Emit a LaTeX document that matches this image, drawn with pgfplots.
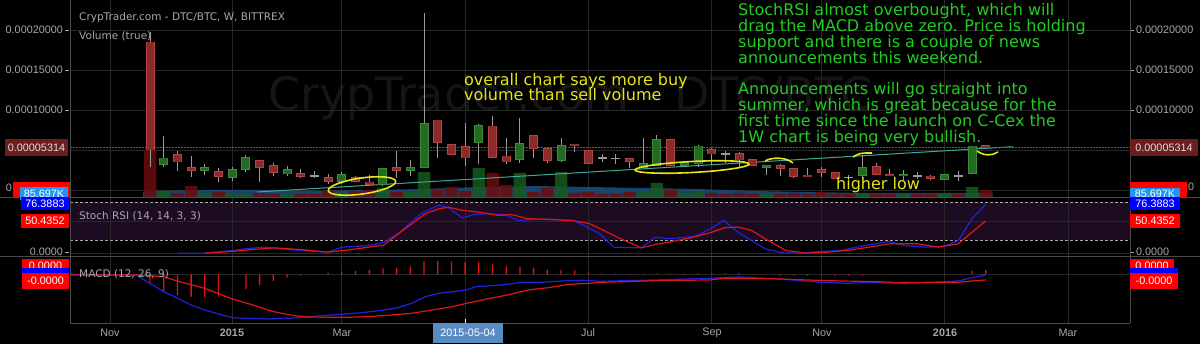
\documentclass[border=0pt]{standalone}
\usepackage{fontspec}
\setmainfont{Liberation Sans}
\newfontfamily\dv{DejaVu Sans}
\usepackage{pgfplots}
\usepackage{pgfplotstable}
\pgfplotsset{compat=1.18}
\definecolor{gridc}{HTML}{272727}
\definecolor{sepc}{HTML}{4A4A4A}
\definecolor{lab}{HTML}{A8A8A8}
\definecolor{gfill}{HTML}{236A23}
\definecolor{gline}{HTML}{3A8E3A}
\definecolor{rfill}{HTML}{8A2A2A}
\definecolor{rline}{HTML}{B44444}
\definecolor{wick}{HTML}{9A9A9A}
\definecolor{vgreen}{HTML}{175A1E}
\definecolor{vred}{HTML}{6A0C0C}
\definecolor{vma}{HTML}{1C4F7E}
\definecolor{band}{HTML}{1D0B21}
\definecolor{kblue}{HTML}{2222DD}
\definecolor{dred}{HTML}{E01515}
\definecolor{trend}{HTML}{3FA69A}
\definecolor{anny}{HTML}{E5E51A}
\definecolor{anng}{HTML}{22CC22}
\definecolor{pbox}{HTML}{6B1E1E}
\definecolor{vbox}{HTML}{2196F3}
\definecolor{datebox}{HTML}{5A8CC4}
\definecolor{wm}{HTML}{151515}
\definecolor{curline}{HTML}{B03A3A}
\newcommand\lf{\fontsize{10.8}{12}\selectfont}
\newcommand\af{\dv\fontsize{16}{16}\selectfont}
\newcommand\tf{\dv\fontsize{10.5}{12}\selectfont}

\pgfplotstableread{
i o h l c t v
0 18.5 19.75 2.9 5.0 -1 47
1 3.2 6.75 2.9 4.0 1 6
2 4.4 4.9 2.4 3.5 -1 4
3 2.8 4.2 1.66 2.45 -1 11
4 2.45 3.3 1.9 2.8 1 4
5 2.3 2.7 0.96 1.7 -1 5
6 1.6 2.9 1.1 2.6 1 3
7 2.6 4.4 2.2 4.1 1 3
8 3.7 3.8 0.96 2.8 -1 4
9 3.1 3.4 1.8 2.2 -1 3
10 2.0 3.0 1.8 2.6 1 3
11 2.1 2.6 1.46 1.66 -1 3
12 1.75 2.4 1.46 1.76 0 3
13 1.6 1.96 0.8 1.04 -1 6
14 1.1 2.2 0.8 1.96 1 4
15 1.6 1.7 1.0 1.1 -1 6
16 1.0 1.9 0.6 0.7 -1 7
17 0.63 2.8 0.54 2.7 1 9
18 2.8 4.9 1.46 2.45 -1 5
19 2.45 3.8 1.75 2.8 1 5
20 2.84 22.1 2.84 8.33 1 25
21 8.75 8.8 4.0 5.9 -1 7
22 5.7 5.8 4.4 4.46 -1 10
23 5.4 8.33 3.0 4.0 -1 6
24 5.9 8.2 3.2 8.1 1 29
25 8.0 9.25 4.0 4.1 -1 24
26 4.25 6.46 3.2 3.5 -1 12
27 3.84 8.96 3.4 5.84 1 24
28 6.84 6.9 4.0 5.2 -1 5
29 5.2 5.3 3.34 3.66 -1 9
30 3.66 6.46 3.5 5.54 1 25
31 5.75 5.8 4.8 5.62 -1 4
32 4.9 5.0 3.3 3.34 -1 5
33 4.04 4.5 3.5 4.0 0 3
34 3.96 4.5 3.3 3.95 0 3
35 3.9 3.95 2.8 3.6 -1 5
36 2.8 6.54 2.7 3.34 1 6
37 3.1 6.9 3.0 6.34 1 14
38 6.34 6.4 3.0 3.1 -1 7
39 3.1 3.5 3.0 3.46 1 4
40 3.25 5.67 2.9 5.5 1 5
41 5.1 5.2 3.1 4.5 -1 4
42 4.5 4.84 3.34 4.51 0 3
43 4.6 4.7 2.9 3.75 -1 4
44 3.84 3.9 3.04 3.04 -1 3
45 2.8 3.1 1.9 3.1 1 3
46 3.1 3.2 1.8 2.7 -1 3
47 2.7 2.8 1.5 1.66 -1 4
48 1.85 2.8 1.7 1.75 -1 3
49 2.6 2.9 1.6 2.16 -1 5
50 2.2 2.3 1.4 1.46 -1 3
51 1.59 1.9 1.2 1.6 0 3
52 1.8 4.4 1.4 2.8 1 4
53 2.9 3.34 1.9 1.96 -1 3
54 1.9 2.6 1.75 1.75 -1 3
55 1.75 2.5 1.3 1.96 1 3
56 1.75 2.2 1.4 1.76 0 3
57 1.75 1.9 1.3 1.4 -1 3
58 1.34 1.95 1.3 1.9 1 3
59 1.8 2.4 1.1 1.81 0 3
60 2.1 5.5 2.1 5.5 1 10
61 5.55 5.6 5.1 5.314 -1 7
}\candles

\pgfplotstableread{
i m
-0.5 5
0 6
4 7
8 7
12 6
16 7
20 8
24 10
28 11
32 10
36 9
40 8
44 6
48 5
52 4
56 4
61.5 4
}\volma

\pgfplotstableread{
i k
2 0.2
4 0.2
6 4.4
7 7
8.3 9.6
9.5 7
11 4.4
13 1.7
14 9.6
15.3 11.1
16 12.2
17.1 17.4
18.1 30.4
18.8 43.5
19.8 61.7
20.8 72.2
21.1 74.8
21.8 71.1
22.8 55
23.6 60.2
24.6 61.7
25.9 60.2
26.9 51.3
27.9 52.9
29.1 52.9
30.9 51.3
31.9 40.9
32.85 30
33.85 9.6
35.86 8.5
36.87 25.2
37.88 22.6
39.88 26.8
40.89 38.3
41.9 51.3
42.9 33
43.9 20
44.9 7
46.2 0.7
47.4 0.2
48.9 2.8
50.4 4.4
51.9 11.1
53.96 18.4
55 12.2
56.5 9.6
58 11.1
59 20
60 53.9
61 76.39
}\stochk

\pgfplotstableread{
i d
4 0.2
6 2.8
7.5 5.9
9 8.5
11 5.9
13 1.7
14.5 5.4
16 9.6
17.1 13.2
17.8 25.2
18.8 41
20.1 61.7
21.1 69.6
21.8 71.7
22.8 67
24.3 63.3
25.4 59.1
26.4 60.2
27.6 53.9
29.1 52.9
30.9 50.8
32.1 46.1
32.85 38.3
34.36 22.6
35.86 8.5
36.87 13.7
37.88 17.4
39.38 23.7
40.89 32
41.9 39.8
42.9 40.9
43.9 35.7
44.9 22.6
46.4 4.4
47.9 0.2
49.4 1.7
50.9 4.4
52.5 9.6
53.96 14.8
56 14.8
57.5 9.6
59 14.8
60 33
61 50.44
}\stochd

\pgfplotstableread{
i m
-5.8 0
-1.04 -0.2
0 -2.7
1 -5.2
2 -7.2
3 -9.2
4 -10.7
5 -11.9
6 -13.0
7 -13.2
8.5 -13.4
10 -13.2
11 -13.0
12.5 -12.4
14 -12.0
15.5 -11.5
17.1 -10.7
18.1 -10.0
19.1 -8.7
20.1 -6.7
21.1 -5.7
22.1 -5.2
23.1 -4.7
23.8 -3.7
25.1 -3.4
26.1 -3.0
27.1 -2.4
28.6 -2.4
30.1 -2.0
31.6 -1.8
32.85 -2.1
36.87 -1.7
40.9 -1.2
42.9 -0.8
44.9 -1.2
46.9 -1.7
48.9 -2.4
50.9 -2.7
52.96 -2.4
54.97 -2.7
57 -2.5
59 -2.0
60 -1.0
61 -0.2
}\macd

\pgfplotstableread{
i s
-5.8 -0.2
-1.04 -0.2
0.97 -0.7
1.98 -2.0
3.99 -4.2
5.0 -5.8
6.0 -7.4
7.5 -9.2
9.0 -11.2
10.5 -12.4
11.5 -12.8
13.0 -12.9
14.5 -12.9
16.0 -12.7
17.6 -12.2
19.1 -11.7
20.6 -10.7
22.1 -9.7
23.1 -8.7
24.6 -7.4
26.1 -6.2
27.6 -4.7
29.1 -4.0
30.6 -3.0
32.1 -2.7
32.85 -2.4
34.86 -2.2
36.87 -1.9
40.9 -1.7
41.9 -1.2
43.9 -1.2
45.9 -1.4
47.9 -1.7
50.4 -2.0
52.96 -2.2
54.5 -2.5
57 -2.4
59 -2.4
60 -2.0
61 -1.7
}\signal

\pgfplotstableread{
i h
0 -3.0
1 -5.2
2 -6.2
3 -6.7
4 -7.0
5 -6.7
7 -4.4
8 -3.2
9 -2.0
10 -1.0
11 -0.4
12 -0.2
13 0.4
14 0.8
15 1.0
16 1.3
17 1.8
18 2.0
19 2.3
20 3.8
21 4.0
22 3.8
23 3.6
24 3.7
25 3.0
26 2.4
27 2.2
28 2.0
29 1.3
30 1.3
31 1.2
32 0.6
33 0.2
34 0.2
35 0.2
36 0.2
37 0.3
38 0.2
39 0.2
40 0.3
41 0.3
42 0.3
43 0.3
44 -0.1
45 -0.1
46 -0.4
47 -0.4
48 -0.4
49 -0.4
50 -0.4
51 -0.4
52 -0.4
53 0.1
54 0.1
55 0.1
56 0.1
57 0.1
58 0.1
59 0.1
60 1.0
61 1.3
}\hist

\pgfplotsset{
  panel/.style={scale only axis, width=1060pt, xmin=-5.839, xmax=71.53,
    axis line style={draw=none}, tick style={draw=none},
    xticklabels={}, yticklabels={},
    xtick={-2.92,6,14,23,32,41,49,58,67},
    grid=major, major grid style={gridc, line width=0.8pt}},
  body/.style 2 args={draw=none, mark=none,
    error bars/.cd, y dir=both, y explicit, error mark=none,
    error bar style={draw=#1, line width=#2, solid}},
}

\begin{document}
\begin{tikzpicture}[x=1pt,y=1pt]
\useasboundingbox (0,0) rectangle (1200,344);
\fill[black] (0,0) rectangle (1200,344);
% watermark
\node[anchor=base west, inner sep=0, text=wm, font=\dv\fontsize{46}{50}\selectfont] at (268,233) {CrypTrader.com - DTC/BTC};
% stoch band
\fill[band] (70,103.5) rectangle (1130,142);

% ---------- main panel: grid + volume ----------
\begin{axis}[panel, at={(70pt,147pt)}, anchor=south west, height=197pt,
  ymin=0, ymax=197, ytick={7,47,87,127,167}]
  \addplot[fill=vma, draw=none, fill opacity=0.85] table[x=i,y=m]{\volma} \closedcycle;
  \addplot[ybar, bar width=12.5pt, bar shift=0pt, fill=vgreen, draw=none, fill opacity=0.85,
    restrict expr to domain={\thisrow{t}}{0.5:2}] table[x=i,y=v]{\candles};
  \addplot[ybar, bar width=12.5pt, bar shift=0pt, fill=vred, draw=none, fill opacity=0.85,
    restrict expr to domain={\thisrow{t}}{-2:0.1}] table[x=i,y=v]{\candles};
\end{axis}

% ---------- main panel: candles ----------
\begin{axis}[scale only axis, width=1060pt, height=197pt, at={(70pt,147pt)}, anchor=south west,
  xmin=-5.839, xmax=71.53, ymin=-0.875, ymax=23.75, hide axis]
  \addplot[trend, line width=1pt] coordinates {(7.8,-0.25) (63,5.41)};
  \addplot[curline, line width=0.8pt, dash pattern=on 1.5pt off 1.5pt] coordinates {(-5.839,5.314) (71.53,5.314)};
  % wicks
  \addplot[draw=none, mark=none, error bars/.cd, y dir=minus, y explicit, error mark=none,
    error bar style={draw=wick, line width=1pt, solid}]
    table[x=i, y=h, y error minus expr=\thisrow{h}-\thisrow{l}]{\candles};
  % green bodies
  \addplot[restrict expr to domain={\thisrow{t}}{0.5:2}, body={gline}{9pt}]
    table[x=i, y expr=(\thisrow{o}+\thisrow{c})/2, y error expr={abs(\thisrow{c}-\thisrow{o})/2+0.06}]{\candles};
  \addplot[restrict expr to domain={\thisrow{t}}{0.5:2}, body={gfill}{7pt}]
    table[x=i, y expr=(\thisrow{o}+\thisrow{c})/2, y error expr={max(abs(\thisrow{c}-\thisrow{o})/2-0.06,0.02)}]{\candles};
  % red bodies
  \addplot[restrict expr to domain={\thisrow{t}}{-2:-0.5}, body={rline}{9pt}]
    table[x=i, y expr=(\thisrow{o}+\thisrow{c})/2, y error expr={abs(\thisrow{c}-\thisrow{o})/2+0.06}]{\candles};
  \addplot[restrict expr to domain={\thisrow{t}}{-2:-0.5}, body={rfill}{7pt}]
    table[x=i, y expr=(\thisrow{o}+\thisrow{c})/2, y error expr={max(abs(\thisrow{c}-\thisrow{o})/2-0.06,0.02)}]{\candles};
  % doji
  \addplot[restrict expr to domain={\thisrow{t}}{-0.5:0.5}, body={wick}{9pt}]
    table[x=i, y expr=(\thisrow{o}+\thisrow{c})/2, y error expr=0.07]{\candles};
\end{axis}

% ---------- Stoch RSI ----------
\begin{axis}[panel, at={(70pt,87.5pt)}, anchor=south west, height=59pt,
  ymin=-5, ymax=87, ytick={0,50}]
  \draw[lab, line width=0.7pt, dash pattern=on 3pt off 2pt] (axis cs:-5.839,80) -- (axis cs:71.53,80);
  \draw[lab, line width=0.7pt, dash pattern=on 3pt off 2pt] (axis cs:-5.839,20) -- (axis cs:71.53,20);
  \addplot[kblue, line width=1.2pt] table[x=i,y=k]{\stochk};
  \addplot[dred, line width=1.2pt] table[x=i,y=d]{\stochd};
\end{axis}

% ---------- MACD ----------
\begin{axis}[panel, at={(70pt,21pt)}, anchor=south west, height=66.5pt,
  ymin=-14.61, ymax=5.34, ytick={0}]
  \addplot[ybar, bar width=1.3pt, bar shift=0pt, fill=dred, draw=none] table[x=i,y=h]{\hist};
  \addplot[kblue, line width=1.2pt] table[x=i,y=m]{\macd};
  \addplot[dred, line width=1.2pt] table[x=i,y=s]{\signal};
\end{axis}

% separators and borders
\draw[sepc, line width=0.8pt] (0,146.5) -- (1200,146.5);
\draw[sepc, line width=0.8pt] (0,87.5) -- (1200,87.5);
\draw[sepc, line width=0.8pt] (70,21) -- (1130,21);
\draw[sepc, line width=0.8pt] (70,21) -- (70,344);
\draw[sepc, line width=0.8pt] (1130,21) -- (1130,344);

% hand drawn yellow marks
\draw[anny, line width=1.6pt, rotate around={8:(362,158)}] (362,158) ellipse [x radius=34pt, y radius=8pt];
\draw[anny, line width=1.6pt, rotate around={3:(692,177)}] (692,177) ellipse [x radius=57pt, y radius=5.5pt];
\draw[anny, line width=1.6pt] (765,183) .. controls (772,187) and (786,187) .. (793,181);
\draw[anny, line width=1.6pt] (853,187) .. controls (860,191) .. (872,191);
\draw[anny, line width=1.6pt] (977,193) .. controls (984,188) and (992,188) .. (998,192);

% titles
\node[anchor=west, inner sep=0, text=lab, font=\tf] at (79,326) {CrypTrader.com - DTC/BTC, W, BITTREX};
\node[anchor=west, inner sep=0, text=lab, font=\tf] at (79,308) {Volume (true)};
\node[anchor=west, inner sep=0, text=lab, font=\tf] at (79,128) {Stoch RSI (14, 14, 3, 3)};
\node[anchor=west, inner sep=0, text=lab, font=\tf] at (79,70) {MACD (12, 26, 9)};

% annotations
\begin{scope}[every node/.style={anchor=base west, inner sep=0, font=\af}]
\node[text=anng] at (738,328) {StochRSI almost overbought, which will};
\node[text=anng] at (738,312.2) {drag the MACD above zero. Price is holding};
\node[text=anng] at (738,296.4) {support and there is a couple of news};
\node[text=anng] at (738,280.6) {announcements this weekend.};
\node[text=anng] at (738,249) {Announcements will go straight into};
\node[text=anng] at (738,233.2) {summer, which is great because for the};
\node[text=anng] at (738,217.4) {first time since the launch on C-Cex the};
\node[text=anng] at (738,201.6) {1W chart is being very bullish.};
\node[text=anny] at (464,258.3) {overall chart says more buy};
\node[text=anny] at (464,243) {volume than sell volume};
\node[text=anny] at (836,154.7) {higher low};
\end{scope}

% price axis labels
\begin{scope}[every node/.style={inner sep=0, font=\lf}]
\foreach \yy/\tt in {314/0.00020000, 274/0.00015000, 234/0.00010000}{
  \node[anchor=east, text=lab] at (63,\yy) {\tt};
  \draw[lab] (65,\yy) -- (69,\yy);
  \node[anchor=west, text=lab] at (1136,\yy) {\tt};
  \draw[lab] (1131,\yy) -- (1134,\yy);
}
\fill[pbox] (5,188) rectangle (68,205);
\node[text=white!88!black] at (36.5,196.5) {0.00005314};
\fill[pbox] (1130,188) rectangle (1198,205);
\node[text=white!88!black] at (1164,196.5) {0.00005314};
% volume labels
\node[text=lab] at (9,156) {0};
\fill[red] (13,146) rectangle (70,162);
\fill[vbox] (20,144) rectangle (68,157);
\node[text=white] at (44,150.5) {85.697K};
\fill[red] (1130,147) rectangle (1187,162);
\fill[vbox] (1130,144) rectangle (1180,156);
\node[text=white] at (1155,150) {85.697K};
\node[text=lab] at (1191,157) {0};
% stoch labels
\fill[red] (21,116) rectangle (69,130);
\node[text=white] at (45,123) {50.4352};
\fill[blue] (21,134) rectangle (69,146.5);
\node[text=white] at (45,140) {76.3883};
\fill[red] (1130,116) rectangle (1180,130);
\node[text=white] at (1155,123) {50.4352};
\fill[blue] (1130,134) rectangle (1180,146.5);
\node[text=white] at (1155,140) {76.3883};
\node[anchor=east, text=lab] at (63,92) {0.0000};
\draw[lab] (65,92) -- (69,92);
\node[anchor=west, text=lab] at (1136,92) {0.0000};
\draw[lab] (1131,92) -- (1134,92);
% macd labels
\fill[red] (22,71) rectangle (69,85);
\node[text=white] at (45.5,78) {0.0000};
\fill[blue] (22,62) rectangle (69,76);
\fill[red] (22,55) rectangle (69,71);
\node[text=white] at (45.5,63) {-0.0000};
\fill[red] (1130,71) rectangle (1174,85);
\node[text=white] at (1152,78) {0.0000};
\fill[blue] (1130,62) rectangle (1178,76);
\fill[red] (1130,55) rectangle (1178,71);
\node[text=white] at (1154,63) {-0.0000};
% x labels
\foreach \xx/\tt in {110/Nov, 342/Mar, 588/Jul, 712/Sep, 822/Nov, 1068/Mar}{
  \node[text=lab] at (\xx,11) {\tt};
}
\node[text=lab, font=\lf\bfseries] at (232,11) {2015};
\node[text=lab, font=\lf\bfseries] at (945,11) {2016};
\fill[datebox] (433,1) rectangle (503,21);
\node[text=white] at (468,11) {2015-05-04};
\draw[white, line width=0.8pt] (465,21) -- (465,25);
\end{scope}
\end{tikzpicture}
\end{document}
